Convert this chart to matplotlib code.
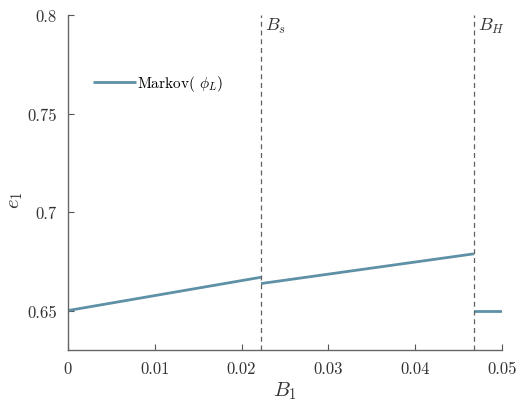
import matplotlib
matplotlib.use("Agg")
import matplotlib.pyplot as plt

plt.rcParams['font.family'] = 'serif'
plt.rcParams['font.serif'] = ['cmr10', 'DejaVu Serif']
plt.rcParams['mathtext.fontset'] = 'cm'
plt.rcParams['axes.unicode_minus'] = False

# Data
seg1_x = [0.0, 0.02224]
seg1_y = [0.650, 0.6669]
seg2_x = [0.02224, 0.04677]
seg2_y = [0.6637, 0.6788]
seg3_x = [0.04677, 0.05]
seg3_y = [0.650, 0.650]
B_s = 0.02224
B_H = 0.04677
xticks = [0, 0.01, 0.02, 0.03, 0.04, 0.05]
xticklabels = ['0', '0.01', '0.02', '0.03', '0.04', '0.05']
yticks = [0.65, 0.7, 0.75, 0.8]
yticklabels = ['0.65', '0.7', '0.75', '0.8']

color = '#5e91a6'
fig = plt.figure(figsize=(5.19, 4.02), dpi=100)
ax = fig.add_axes([0.131, 0.127, 0.836, 0.833])

ax.plot(seg1_x, seg1_y, color=color, lw=2, label=r'Markov( $\phi_L$)', solid_capstyle='butt')
ax.plot(seg2_x, seg2_y, color=color, lw=2, solid_capstyle='butt')
ax.plot(seg3_x, seg3_y, color=color, lw=2, solid_capstyle='butt')

ax.axvline(B_s, color='#606060', ls=(0, (4, 3)), lw=0.9)
ax.axvline(B_H, color='#606060', ls=(0, (4, 3)), lw=0.9)
ax.text(B_s + 0.0005, 0.7995, r'$B_s$', fontsize=13, va='top', ha='left', color='#333333')
ax.text(B_H + 0.0005, 0.7995, r'$B_H$', fontsize=13, va='top', ha='left', color='#333333')

ax.set_xlim(0, 0.05)
ax.set_ylim(0.63, 0.8)
ax.set_xticks(xticks)
ax.set_xticklabels(xticklabels)
ax.set_yticks(yticks)
ax.set_yticklabels(yticklabels)
ax.tick_params(direction='in', length=4, color='#555555', labelsize=12, labelcolor='#333333', pad=8)
for s in ['top', 'right']:
    ax.spines[s].set_visible(False)
for s in ['left', 'bottom']:
    ax.spines[s].set_color('#666666')
    ax.spines[s].set_linewidth(1.0)

ax.set_xlabel(r'$B_1$', fontsize=15, color='#333333', labelpad=2)
ax.set_ylabel(r'$e_1$', fontsize=15, color='#333333')
ax.yaxis.set_label_coords(-0.10, 0.45)

leg = ax.legend(loc='upper left', bbox_to_anchor=(0.026, 0.867), frameon=False,
                fontsize=11, handlelength=2.8, handletextpad=0.1)

fig.savefig('out.png', dpi=100)
